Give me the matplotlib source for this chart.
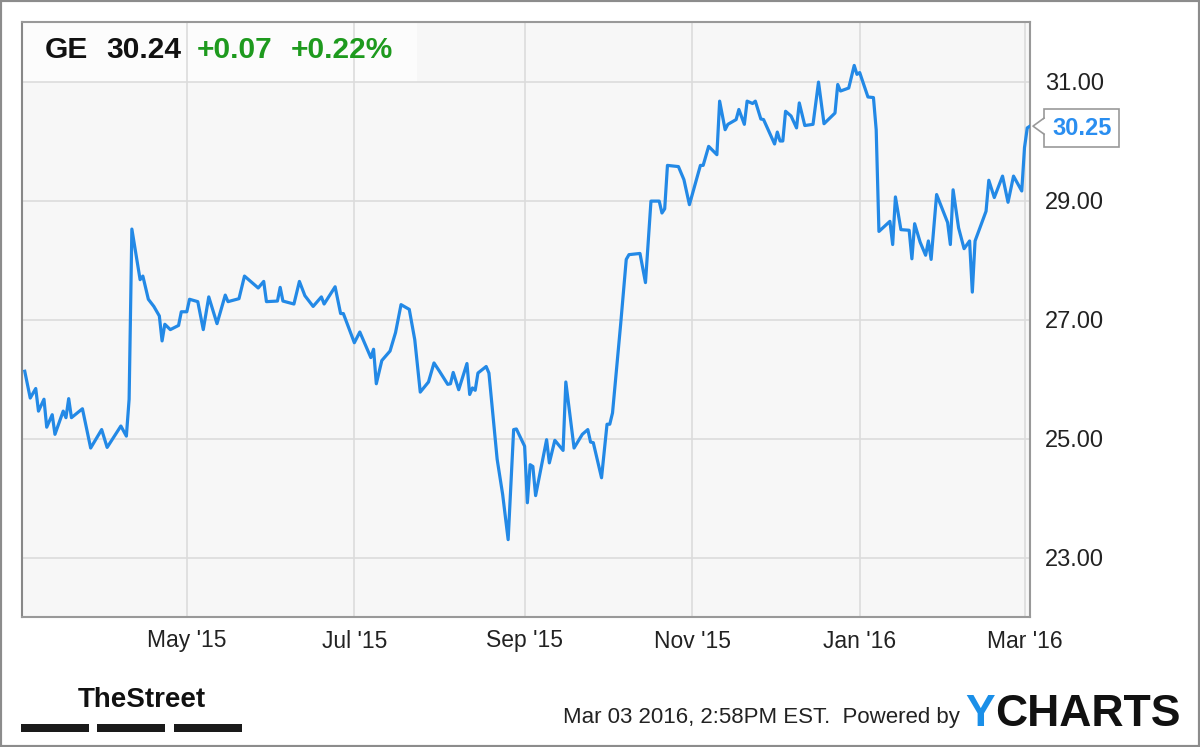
import matplotlib
matplotlib.use("Agg")
import matplotlib.pyplot as plt
import matplotlib.dates as mdates
import matplotlib.transforms as mtransforms
from matplotlib.patches import Rectangle, Polygon
import pandas as pd

# GE daily close (Mar 2015 - Mar 2016)
dates = [
    "2015-03-03", "2015-03-05", "2015-03-07", "2015-03-08", "2015-03-10", "2015-03-11",
    "2015-03-13", "2015-03-14", "2015-03-17", "2015-03-18", "2015-03-19", "2015-03-20",
    "2015-03-24", "2015-03-27", "2015-03-31", "2015-04-02", "2015-04-07", "2015-04-09",
    "2015-04-10", "2015-04-11", "2015-04-14", "2015-04-15", "2015-04-17", "2015-04-19",
    "2015-04-21", "2015-04-22", "2015-04-23", "2015-04-25", "2015-04-28", "2015-04-29",
    "2015-05-01", "2015-05-02", "2015-05-05", "2015-05-07", "2015-05-09", "2015-05-12",
    "2015-05-15", "2015-05-16", "2015-05-20", "2015-05-22", "2015-05-27", "2015-05-29",
    "2015-05-30", "2015-06-03", "2015-06-04", "2015-06-05", "2015-06-09", "2015-06-11",
    "2015-06-13", "2015-06-16", "2015-06-19", "2015-06-20", "2015-06-24", "2015-06-26",
    "2015-06-27", "2015-07-01", "2015-07-03", "2015-07-07", "2015-07-08", "2015-07-09",
    "2015-07-11", "2015-07-14", "2015-07-16", "2015-07-18", "2015-07-21", "2015-07-23",
    "2015-07-25", "2015-07-28", "2015-07-30", "2015-08-01", "2015-08-04", "2015-08-05",
    "2015-08-06", "2015-08-08", "2015-08-11", "2015-08-12", "2015-08-13", "2015-08-14",
    "2015-08-15", "2015-08-18", "2015-08-19", "2015-08-22", "2015-08-24", "2015-08-26",
    "2015-08-28", "2015-08-29", "2015-09-01", "2015-09-02", "2015-09-03", "2015-09-04",
    "2015-09-05", "2015-09-09", "2015-09-10", "2015-09-12", "2015-09-15", "2015-09-16",
    "2015-09-19", "2015-09-22", "2015-09-24", "2015-09-25", "2015-09-26", "2015-09-29",
    "2015-10-01", "2015-10-02", "2015-10-03", "2015-10-06", "2015-10-08", "2015-10-09",
    "2015-10-13", "2015-10-15", "2015-10-17", "2015-10-20", "2015-10-21", "2015-10-22",
    "2015-10-23", "2015-10-27", "2015-10-29", "2015-10-31", "2015-11-04", "2015-11-05",
    "2015-11-07", "2015-11-10", "2015-11-11", "2015-11-13", "2015-11-14", "2015-11-17",
    "2015-11-18", "2015-11-20", "2015-11-21", "2015-11-23", "2015-11-24", "2015-11-26",
    "2015-11-27", "2015-12-01", "2015-12-02", "2015-12-03", "2015-12-04", "2015-12-05",
    "2015-12-07", "2015-12-09", "2015-12-10", "2015-12-12", "2015-12-15", "2015-12-17",
    "2015-12-19", "2015-12-23", "2015-12-24", "2015-12-25", "2015-12-28", "2015-12-30",
    "2015-12-31", "2016-01-01", "2016-01-04", "2016-01-06", "2016-01-07", "2016-01-08",
    "2016-01-12", "2016-01-13", "2016-01-14", "2016-01-16", "2016-01-19", "2016-01-20",
    "2016-01-21", "2016-01-23", "2016-01-25", "2016-01-26", "2016-01-27", "2016-01-29",
    "2016-02-02", "2016-02-03", "2016-02-04", "2016-02-06", "2016-02-08", "2016-02-10",
    "2016-02-11", "2016-02-12", "2016-02-16", "2016-02-17", "2016-02-19", "2016-02-22",
    "2016-02-24", "2016-02-26", "2016-02-29", "2016-03-01", "2016-03-02", "2016-03-03",
]
prices = [
    26.13, 25.68, 25.84, 25.46, 25.66, 25.19,
    25.40, 25.07, 25.46, 25.35, 25.67, 25.35,
    25.50, 24.84, 25.15, 24.85, 25.21, 25.04,
    25.66, 28.52, 27.67, 27.73, 27.34, 27.22,
    27.06, 26.64, 26.92, 26.83, 26.90, 27.13,
    27.13, 27.34, 27.30, 26.83, 27.38, 26.93,
    27.41, 27.30, 27.35, 27.73, 27.53, 27.64,
    27.30, 27.31, 27.54, 27.31, 27.26, 27.64,
    27.40, 27.22, 27.38, 27.26, 27.55, 27.10,
    27.10, 26.61, 26.79, 26.36, 26.50, 25.92,
    26.31, 26.47, 26.78, 27.25, 27.17, 26.66,
    25.78, 25.95, 26.27, 26.13, 25.91, 25.92,
    26.11, 25.82, 26.26, 25.74, 25.85, 25.81,
    26.10, 26.21, 26.10, 24.65, 24.06, 23.30,
    25.15, 25.16, 24.87, 23.92, 24.56, 24.53,
    24.04, 24.98, 24.59, 24.97, 24.80, 25.95,
    24.84, 25.07, 25.15, 24.94, 24.93, 24.34,
    25.24, 25.24, 25.43, 26.94, 28.01, 28.09,
    28.11, 27.62, 28.99, 28.99, 28.79, 28.86,
    29.59, 29.57, 29.35, 28.93, 29.59, 29.59,
    29.91, 29.77, 30.67, 30.19, 30.28, 30.36,
    30.53, 30.28, 30.67, 30.63, 30.67, 30.37,
    30.36, 29.95, 30.15, 30.00, 30.00, 30.50,
    30.42, 30.22, 30.64, 30.26, 30.28, 30.99,
    30.29, 30.47, 30.95, 30.84, 30.89, 31.27,
    31.12, 31.15, 30.74, 30.73, 30.19, 28.48,
    28.65, 28.26, 29.06, 28.51, 28.50, 28.02,
    28.61, 28.30, 28.08, 28.32, 28.01, 29.10,
    28.63, 28.26, 29.18, 28.54, 28.19, 28.32,
    27.46, 28.32, 28.82, 29.34, 29.05, 29.41,
    28.97, 29.41, 29.16, 29.89, 30.22, 30.25,
]
y_ticks = [23, 25, 27, 29, 31]

ticker = "GE"
last_price = "30.24"
change = "+0.07"
change_pct = "+0.22%"
timestamp = "Mar 03 2016, 2:58PM EST.  Powered by"

W, H = 1200, 747
LINE = "#2389e6"
GREEN = "#1e9a1e"

plt.rcParams['font.family'] = ['Liberation Sans', 'DejaVu Sans']

fig = plt.figure(figsize=(W / 100, H / 100), dpi=100)
fig.patch.set_facecolor("white")
ax = fig.add_axes([22 / W, (H - 617) / H, 1008 / W, 595 / H])
ax.set_facecolor("#f7f7f7")

x = pd.to_datetime(dates)
ax.plot(x, prices, color=LINE, lw=2.3, solid_joinstyle="round", zorder=3)

ax.set_xlim(pd.Timestamp("2015-03-02"), pd.Timestamp("2016-03-03"))
ax.set_ylim(22, 32)

ax.xaxis.set_major_locator(mdates.MonthLocator(bymonth=[1, 3, 5, 7, 9, 11]))
ax.xaxis.set_major_formatter(mdates.DateFormatter("%b '%y"))
ax.set_yticks(y_ticks)
ax.set_yticklabels([f"{v:.2f}" for v in y_ticks])
ax.yaxis.tick_right()
ax.tick_params(axis="y", length=0, pad=11, labelsize=17, labelcolor="#222222")
ax.tick_params(axis="x", length=0, pad=9, labelsize=16.5, labelcolor="#222222")

ax.set_axisbelow(True)
ax.grid(True, color="#dcdcdc", lw=1.2)
for s in ax.spines.values():
    s.set_color("#999999")
    s.set_linewidth(1.5)
ax.spines["left"].set_color("#888888")

# header box with quote
ax.add_patch(Rectangle((0, 535 / 595), 395 / 1008, 60 / 595, transform=ax.transAxes,
                       facecolor="#fcfcfc", edgecolor="none", zorder=0.3))
hy = 1 - 50 / H
fig.text(45 / W, hy, ticker, fontsize=21.5, fontweight="bold", color="#111111", va="center")
fig.text(106 / W, hy, last_price, fontsize=21.5, fontweight="bold", color="#111111", va="center")
fig.text(197 / W, hy, change, fontsize=21.5, fontweight="bold", color=GREEN, va="center")
fig.text(291 / W, hy, change_pct, fontsize=21.5, fontweight="bold", color=GREEN, va="center")

# last price callout
fig.canvas.draw()
px, py = ax.transData.transform((mdates.date2num(x[-1]), prices[-1]))
ax.annotate(f"{prices[-1]:.2f}", xy=(x[-1], prices[-1]), xytext=(22, -2),
            textcoords="offset pixels", ha="left", va="center", fontsize=17,
            fontweight="bold", color="#2a8ef0", annotation_clip=False,
            bbox=dict(boxstyle="square,pad=0.32", fc="white", ec="#999999", lw=1.2),
            zorder=5)
bx = px + 14
ident = mtransforms.IdentityTransform()
fig.patches.append(Polygon([(bx + 1.5, py + 8), (px + 3, py), (bx + 1.5, py - 8)], closed=True,
                           facecolor="white", edgecolor="none", transform=ident, zorder=6))
fig.lines.append(plt.Line2D([bx, px + 3, bx], [py + 8, py, py - 8], color="#999999",
                            lw=1.2, transform=ident, zorder=7))

# footer
fig.text(78 / W, 1 - 700 / H, "TheStreet", fontsize=20, fontweight="bold",
         color="#111111", va="center", ha="left")
for x0, x1 in [(21, 89), (97, 165), (174, 242)]:
    fig.patches.append(Rectangle((x0 / W, 1 - 732 / H), (x1 - x0) / W, 8 / H,
                                 transform=fig.transFigure, facecolor="#1a1a1a",
                                 edgecolor="none"))
fig.text(563 / W, 1 - 718 / H, timestamp, fontsize=16, color="#222222",
         va="center", ha="left")
fig.text(965 / W, 1 - 714 / H, "Y", fontsize=32, fontweight="bold",
         color="#1a8fe8", va="center", ha="left")
fig.text(995 / W, 1 - 714 / H, "CHARTS", fontsize=32, fontweight="bold",
         color="#111111", va="center", ha="left")

# outer frame
fig.patches.append(Rectangle((0, 0), 1, 1, transform=fig.transFigure, fill=False,
                             edgecolor="#8c8c8c", lw=3))

fig.savefig("out.png", dpi=100, facecolor="white")
